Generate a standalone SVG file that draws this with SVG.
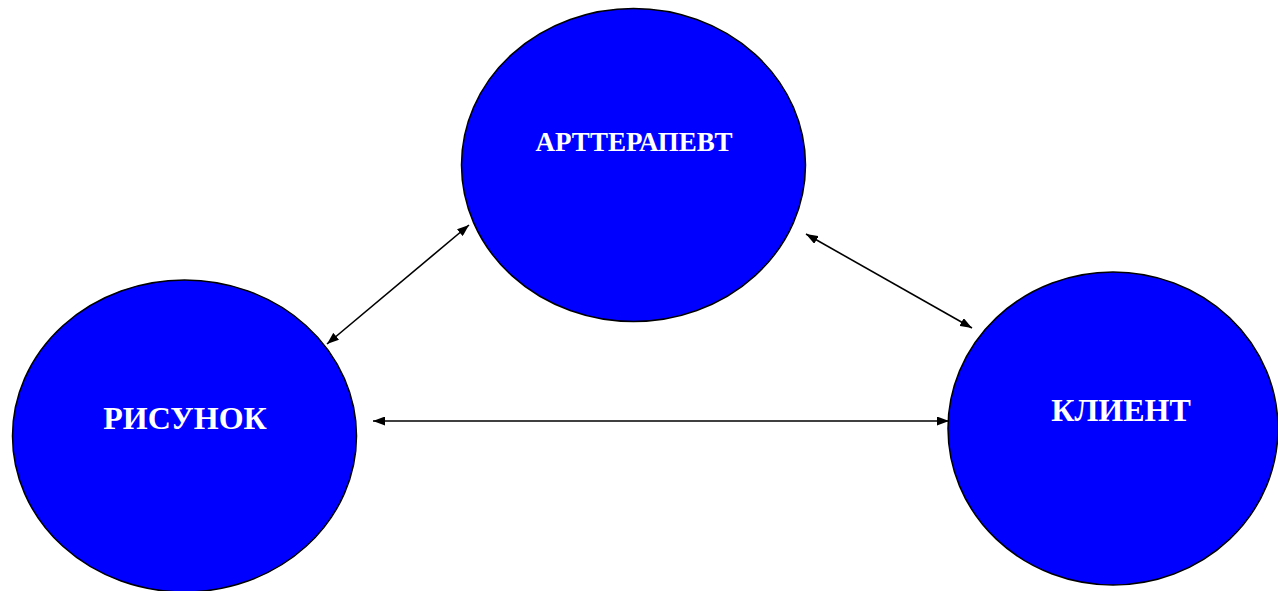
<svg xmlns="http://www.w3.org/2000/svg" width="1278" height="591" viewBox="0 0 1278 591">
<style>
.node{fill:#0000ff;stroke:#000;stroke-width:1.5}
.lbl{fill:#fff;font-family:"Liberation Serif","Times New Roman",serif;font-weight:bold;text-anchor:middle}
.conn{stroke:#000;stroke-width:1.6;fill:none;marker-start:url(#ah);marker-end:url(#ah)}
</style>
<defs>
<marker id="ah" viewBox="0 0 12 9" refX="12" refY="4.5" markerWidth="12" markerHeight="9" markerUnits="userSpaceOnUse" orient="auto-start-reverse">
<path d="M0,0 L12,4.5 L0,9 Z" fill="#000"/>
</marker>
</defs>
<rect width="1278" height="591" fill="#fff"/>
<g id="node-arttherapist">
<ellipse class="node" cx="633.5" cy="165" rx="172" ry="156.5"/>
<text class="lbl" x="634" y="151" font-size="27">АРТТЕРАПЕВТ</text>
</g>
<g id="node-drawing">
<ellipse class="node" cx="184.5" cy="436" rx="172" ry="156"/>
<text class="lbl" x="185" y="429" font-size="32">РИСУНОК</text>
</g>
<g id="node-client">
<ellipse class="node" cx="1113" cy="428.5" rx="165" ry="156.5"/>
<text class="lbl" x="1121" y="421" font-size="32">КЛИЕНТ</text>
</g>
<g id="connectors">
<line class="conn" x1="327" y1="344" x2="469" y2="225"/>
<line class="conn" x1="806" y1="234" x2="972" y2="328"/>
<line class="conn" x1="373" y1="421" x2="949" y2="421"/>
</g>
</svg>
